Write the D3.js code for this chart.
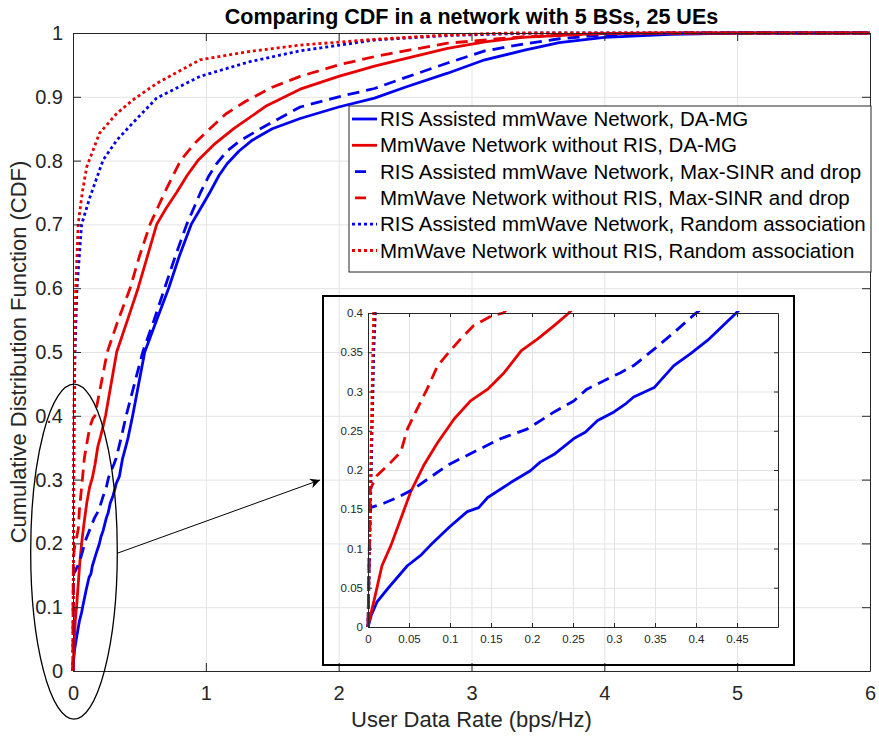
<!DOCTYPE html>
<html>
<head>
<meta charset="utf-8">
<script src="https://cdn.jsdelivr.net/npm/d3@7"></script>
<style>
  body { margin: 0; background: #fff; }
  text { font-family: "Liberation Sans", Arial, Helvetica, sans-serif; fill: #262626; }
</style>
</head>
<body>
<div id="chart"></div>
<script>
// tick values
var xTicks = [0, 1, 2, 3, 4, 5, 6];
var yTicks = [0, 0.1, 0.2, 0.3, 0.4, 0.5, 0.6, 0.7, 0.8, 0.9, 1];
var insetXTicks = [0, 0.05, 0.1, 0.15, 0.2, 0.25, 0.3, 0.35, 0.4, 0.45];
var insetYTicks = [0, 0.05, 0.1, 0.15, 0.2, 0.25, 0.3, 0.35, 0.4];

var legendLabels = [
  "RIS Assisted mmWave Network, DA-MG",
  "MmWave Network without RIS, DA-MG",
  "RIS Assisted mmWave Network, Max-SINR and drop",
  "MmWave Network without RIS, Max-SINR and drop",
  "RIS Assisted mmWave Network, Random association",
  "MmWave Network without RIS, Random association"
];

// CDF curves, [rate, cdf]
var risDamg = [[0,0],[0.004,0.015],[0.011,0.032],[0.025,0.05],[0.048,0.078],[0.065,0.092],[0.076,0.104],
  [0.099,0.127],[0.121,0.147],[0.135,0.152],[0.146,0.165],[0.174,0.184],[0.198,0.199],[0.21,0.21],
  [0.227,0.22],[0.251,0.24],[0.265,0.248],[0.28,0.263],[0.3,0.274],[0.315,0.285],[0.324,0.293],
  [0.349,0.305],[0.373,0.333],[0.393,0.348],[0.414,0.365],[0.449,0.4],[0.54,0.5],[0.63,0.55],
  [0.72,0.6],[0.8,0.65],[0.89,0.7],[0.96,0.725],[1.03,0.75],[1.1,0.777],[1.16,0.795],[1.25,0.815],
  [1.35,0.832],[1.5,0.85],[1.71,0.866],[2.0,0.884],[2.27,0.898],[2.5,0.915],[2.82,0.937],[3.1,0.958],
  [3.4,0.973],[3.66,0.985],[4.0,0.993],[4.5,0.998],[5.0,1],[6,1]];

var noRisDamg = [[0,0],[0.003,0.015],[0.007,0.032],[0.012,0.055],[0.017,0.078],[0.028,0.104],[0.04,0.138],
  [0.052,0.172],[0.068,0.206],[0.085,0.235],[0.105,0.265],[0.125,0.288],[0.146,0.303],[0.166,0.324],
  [0.187,0.352],[0.207,0.367],[0.227,0.384],[0.245,0.4],[0.329,0.5],[0.41,0.55],[0.49,0.6],[0.56,0.65],
  [0.63,0.7],[0.7,0.725],[0.78,0.75],[0.86,0.777],[0.94,0.8],[1.06,0.825],[1.21,0.85],[1.45,0.885],
  [1.71,0.912],[2.0,0.932],[2.27,0.948],[2.5,0.96],[2.82,0.976],[3.1,0.986],[3.38,0.993],[3.94,0.999],
  [4.5,1],[6,1]];

var risMaxSinr = [[0,0],[0.001,0.06],[0.002,0.12],[0.003,0.152],[0.02,0.158],[0.036,0.165],[0.056,0.176],
  [0.075,0.19],[0.097,0.206],[0.129,0.223],[0.162,0.24],[0.194,0.252],[0.227,0.274],[0.251,0.288],
  [0.267,0.303],[0.292,0.316],[0.308,0.324],[0.324,0.333],[0.349,0.354],[0.373,0.375],[0.4,0.4],
  [0.525,0.5],[0.61,0.55],[0.69,0.6],[0.77,0.65],[0.856,0.7],[0.96,0.75],[1.02,0.775],[1.08,0.795],
  [1.16,0.815],[1.25,0.83],[1.41,0.85],[1.71,0.884],[2.0,0.9],[2.27,0.913],[2.5,0.93],[2.82,0.953],
  [3.1,0.972],[3.4,0.983],[3.66,0.991],[4.0,0.997],[4.6,1],[6,1]];

var noRisMaxSinr = [[0,0],[0.001,0.06],[0.002,0.13],[0.003,0.176],[0.011,0.193],[0.028,0.21],[0.04,0.223],
  [0.048,0.252],[0.06,0.278],[0.072,0.303],[0.085,0.333],[0.097,0.348],[0.113,0.367],[0.129,0.384],
  [0.15,0.396],[0.165,0.4],[0.258,0.5],[0.34,0.55],[0.43,0.6],[0.5,0.65],[0.58,0.7],[0.69,0.75],
  [0.81,0.8],[0.92,0.828],[1.03,0.85],[1.15,0.873],[1.3,0.893],[1.5,0.915],[1.71,0.932],[2.0,0.95],
  [2.27,0.963],[2.5,0.972],[2.82,0.984],[3.38,0.994],[4.0,0.999],[4.5,1],[6,1]];

var risRandom = [[0,0],[0.001,0.05],[0.002,0.1],[0.003,0.15],[0.004,0.2],[0.005,0.25],[0.006,0.3],
  [0.007,0.35],[0.009,0.4],[0.015,0.5],[0.03,0.6],[0.065,0.7],[0.128,0.743],[0.227,0.801],[0.33,0.832],
  [0.45,0.859],[0.63,0.898],[0.956,0.932],[1.33,0.955],[1.71,0.972],[2.27,0.989],[2.82,0.996],
  [3.5,1],[6,1]];

var noRisRandom = [[0,0],[0.001,0.06],[0.002,0.12],[0.003,0.18],[0.004,0.24],[0.005,0.3],[0.006,0.35],
  [0.007,0.4],[0.012,0.5],[0.02,0.6],[0.04,0.702],[0.07,0.75],[0.103,0.79],[0.2,0.843],[0.33,0.874],
  [0.45,0.895],[0.63,0.921],[0.956,0.958],[1.33,0.971],[1.71,0.981],[2.27,0.99],[2.82,0.997],
  [3.3,1],[6,1]];

var blue = "#0000f0", red = "#e80000";
var series = [
  {data: risDamg, color: blue, dash: null},
  {data: noRisDamg, color: red, dash: null},
  {data: risMaxSinr, color: blue, dash: "12,7"},
  {data: noRisMaxSinr, color: red, dash: "12,7"},
  {data: risRandom, color: blue, dash: "3,3"},
  {data: noRisRandom, color: red, dash: "3,3"}
];

var W = 879, H = 738;
var margin = {top: 33, right: 9, bottom: 67, left: 73},
  width = W - margin.left - margin.right,
  height = H - margin.top - margin.bottom;

var svg = d3.select("#chart").append("svg")
  .attr("width", W).attr("height", H);

var g = svg.append("g")
  .attr("transform", "translate(" + margin.left + "," + margin.top + ")");

var x = d3.scaleLinear().domain([0, 6]).range([0, width]);
var y = d3.scaleLinear().domain([0, 1]).range([height, 0]);

var fmt = function (d) { return String(+d.toFixed(2)); };

// grid
g.append("g").attr("transform", "translate(0," + height + ")")
  .call(d3.axisBottom(x).tickValues(xTicks).tickSize(-height).tickFormat(""))
  .call(s => s.select(".domain").remove())
  .selectAll("line").attr("stroke", "#e3e3e3");
g.append("g")
  .call(d3.axisLeft(y).tickValues(yTicks).tickSize(-width).tickFormat(""))
  .call(s => s.select(".domain").remove())
  .selectAll("line").attr("stroke", "#e3e3e3");

// curves
var line = d3.line().x(d => x(d[0])).y(d => y(d[1]));
series.forEach(function (s) {
  g.append("path")
    .datum(s.data)
    .attr("fill", "none")
    .attr("stroke", s.color)
    .attr("stroke-width", 2.8)
    .attr("stroke-linejoin", "round")
    .attr("stroke-dasharray", s.dash)
    .attr("d", line);
});

// axes (ticks inside, box on)
function styleAxis(sel) {
  sel.select(".domain").attr("stroke", "#262626");
  sel.selectAll(".tick line").attr("stroke", "#262626");
  sel.selectAll("text").attr("fill", "#262626").style("font-size", "20px")
    .style("font-family", "'Liberation Sans', Arial, sans-serif");
}
g.append("g").attr("transform", "translate(0," + height + ")")
  .call(d3.axisBottom(x).tickValues(xTicks).tickSize(-8).tickSizeOuter(0).tickPadding(15).tickFormat(fmt))
  .call(styleAxis);
g.append("g")
  .call(d3.axisLeft(y).tickValues(yTicks).tickSize(-8).tickSizeOuter(0).tickPadding(10).tickFormat(fmt))
  .call(styleAxis);
g.append("g")
  .call(d3.axisTop(x).tickValues(xTicks).tickSize(-8).tickSizeOuter(0).tickFormat(""))
  .call(styleAxis);
g.append("g").attr("transform", "translate(" + width + ",0)")
  .call(d3.axisRight(y).tickValues(yTicks).tickSize(-8).tickSizeOuter(0).tickFormat(""))
  .call(styleAxis);

// axis labels and title
svg.append("text")
  .attr("x", margin.left + width / 2).attr("y", 727)
  .attr("text-anchor", "middle").style("font-size", "22px")
  .text("User Data Rate (bps/Hz)");
svg.append("text")
  .attr("transform", "translate(26," + (margin.top + height / 2) + ") rotate(-90)")
  .attr("text-anchor", "middle").style("font-size", "22px")
  .text("Cumulative Distribution Function (CDF)");
svg.append("text")
  .attr("x", margin.left + width / 2).attr("y", 24)
  .attr("text-anchor", "middle").style("font-size", "21.5px").style("font-weight", "bold")
  .style("fill", "#000")
  .text("Comparing CDF in a network with 5 BSs, 25 UEs");

// ellipse around the low-rate region and arrow to the zoomed view
g.append("ellipse")
  .attr("cx", x(0.0075)).attr("cy", y(0.187))
  .attr("rx", x(0.326) - x(0)).attr("ry", y(0) - y(0.2625))
  .attr("fill", "none").attr("stroke", "#000").attr("stroke-width", 1.3);

svg.append("defs").append("marker")
  .attr("id", "head").attr("viewBox", "0 0 10 10")
  .attr("refX", 10).attr("refY", 5)
  .attr("markerWidth", 10).attr("markerHeight", 10).attr("markerUnits", "userSpaceOnUse")
  .attr("orient", "auto")
  .append("path").attr("d", "M0,0L10,5L0,10L3,5Z").attr("fill", "#000");

g.append("line")
  .attr("x1", x(0.339)).attr("y1", y(0.185))
  .attr("x2", x(1.86)).attr("y2", y(0.2994))
  .attr("stroke", "#000").attr("stroke-width", 1)
  .attr("marker-end", "url(#head)");

// legend
var lg = svg.append("g");
lg.append("rect")
  .attr("x", 349).attr("y", 106).attr("width", 522).attr("height", 166)
  .attr("fill", "#fff").attr("stroke", "#262626").attr("stroke-width", 1);
legendLabels.forEach(function (lab, i) {
  var cy = 119 + i * 26.3;
  lg.append("line")
    .attr("x1", 352).attr("x2", 377).attr("y1", cy).attr("y2", cy)
    .attr("stroke", series[i].color).attr("stroke-width", 2.8)
    .attr("stroke-dasharray", series[i].dash === "12,7" ? "0,3,11,20" : series[i].dash);
  lg.append("text")
    .attr("x", 380).attr("y", cy).attr("dy", "0.35em")
    .style("font-size", "20.5px").style("fill", "#000")
    .text(lab);
});

// inset (zoomed view)
svg.append("rect")
  .attr("x", 323).attr("y", 296).attr("width", 471).attr("height", 369)
  .attr("fill", "none").attr("stroke", "#000").attr("stroke-width", 2);

var ins = {left: 368, top: 313, right: 778, bottom: 627};
var xi = d3.scaleLinear().domain([0, 0.5]).range([0, ins.right - ins.left]);
var yi = d3.scaleLinear().domain([0, 0.4]).range([ins.bottom - ins.top, 0]);
var gi = svg.append("g").attr("transform", "translate(" + ins.left + "," + ins.top + ")");
var iw = ins.right - ins.left, ih = ins.bottom - ins.top;

gi.append("g").attr("transform", "translate(0," + ih + ")")
  .call(d3.axisBottom(xi).tickValues(insetXTicks).tickSize(-ih).tickFormat(""))
  .call(s => s.select(".domain").remove())
  .selectAll("line").attr("stroke", "#e3e3e3");
gi.append("g")
  .call(d3.axisLeft(yi).tickValues(insetYTicks).tickSize(-iw).tickFormat(""))
  .call(s => s.select(".domain").remove())
  .selectAll("line").attr("stroke", "#e3e3e3");

svg.select("defs").append("clipPath").attr("id", "insetClip")
  .append("rect").attr("x", -2).attr("y", -2).attr("width", iw + 2).attr("height", ih + 4);

var linei = d3.line().x(d => xi(d[0])).y(d => yi(d[1]));
var gl = gi.append("g").attr("clip-path", "url(#insetClip)");
series.forEach(function (s) {
  gl.append("path")
    .datum(s.data)
    .attr("fill", "none")
    .attr("stroke", s.color)
    .attr("stroke-width", 2.8)
    .attr("stroke-linejoin", "round")
    .attr("stroke-dasharray", s.dash)
    .attr("d", linei);
});

function styleInset(sel) {
  sel.select(".domain").attr("stroke", "#262626");
  sel.selectAll(".tick line").attr("stroke", "#262626");
  sel.selectAll("text").attr("fill", "#262626").style("font-size", "11.5px")
    .style("font-family", "'Liberation Sans', Arial, sans-serif");
}
gi.append("g").attr("transform", "translate(0," + ih + ")")
  .call(d3.axisBottom(xi).tickValues(insetXTicks).tickSize(-4).tickSizeOuter(0).tickPadding(8).tickFormat(fmt))
  .call(styleInset);
gi.append("g")
  .call(d3.axisLeft(yi).tickValues(insetYTicks).tickSize(-4).tickSizeOuter(0).tickPadding(5).tickFormat(fmt))
  .call(styleInset);
gi.append("g")
  .call(d3.axisTop(xi).tickValues(insetXTicks).tickSize(-4).tickSizeOuter(0).tickFormat(""))
  .call(styleInset);
gi.append("g").attr("transform", "translate(" + iw + ",0)")
  .call(d3.axisRight(yi).tickValues(insetYTicks).tickSize(-4).tickSizeOuter(0).tickFormat(""))
  .call(styleInset);
</script>
</body>
</html>
